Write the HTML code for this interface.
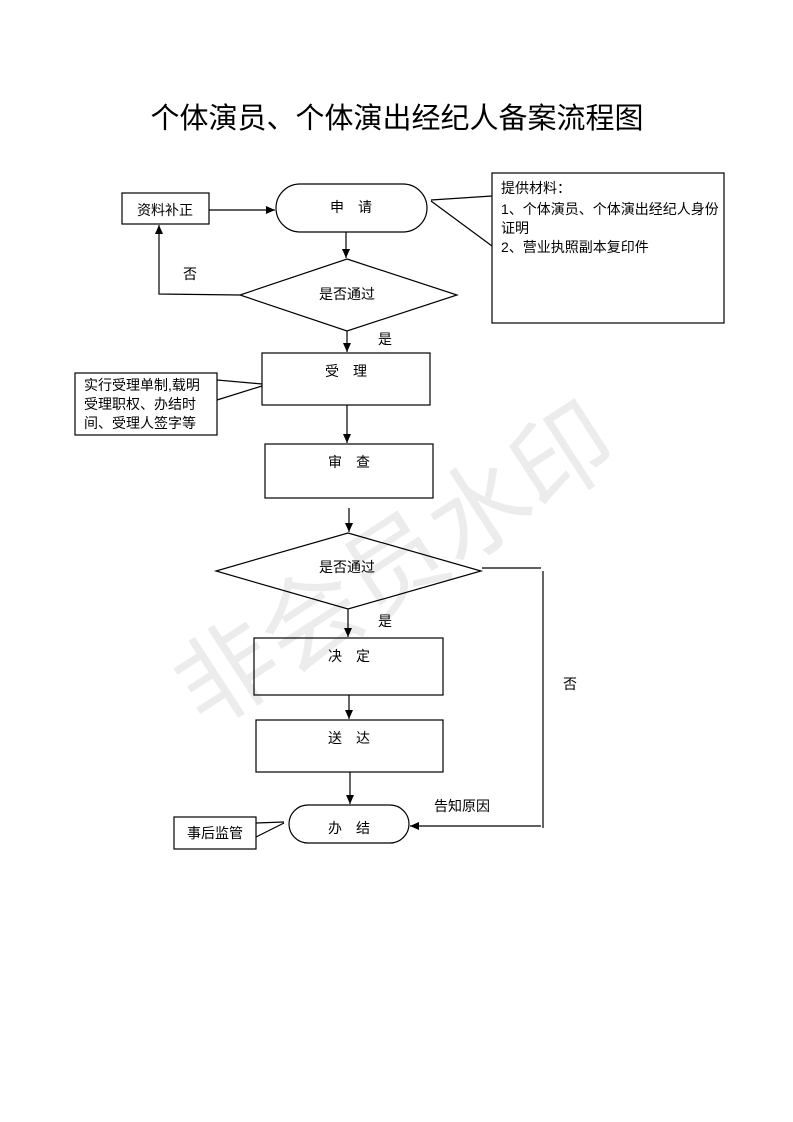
<!DOCTYPE html>
<html><head><meta charset="utf-8"><style>
html,body{margin:0;padding:0;background:#fff;}
svg{display:block;font-family:"Liberation Sans","Noto Sans CJK SC",sans-serif;}
</style></head><body>
<svg width="793" height="1122" viewBox="0 0 793 1122" xmlns="http://www.w3.org/2000/svg">
<defs><marker id="a" markerWidth="10" markerHeight="10" refX="9" refY="5" orient="auto" markerUnits="userSpaceOnUse"><path d="M0,1 L9,5 L0,9 z" fill="#000"/></marker></defs>
<text x="395" y="600" font-size="100" fill="#ececec" text-anchor="middle" transform="rotate(-33 395 565)">非会员水印</text>
<text x="397" y="128" font-size="29" text-anchor="middle" fill="#000">个体演员、个体演出经纪人备案流程图</text>
<g fill="none" stroke="#000" stroke-width="1.2">
<rect x="122" y="193" width="87" height="31"/>
<rect x="276" y="184" width="151" height="48" rx="24"/>
<rect x="492" y="173" width="232" height="150"/>
<polygon points="347,259 457,295 347,331 240,295"/>
<rect x="262" y="353" width="168" height="52"/>
<rect x="75" y="373" width="142" height="62"/>
<rect x="265" y="444" width="168" height="54"/>
<polygon points="348,533 481,571 348,609 216,571"/>
<rect x="254" y="638" width="189" height="57"/>
<rect x="256" y="720" width="187" height="52"/>
<rect x="289" y="805" width="120" height="38" rx="19"/>
<rect x="174" y="817" width="82" height="32"/>
<polyline points="431,200 492,196"/><polyline points="431,201 492,246"/>
<polyline points="262,384 217,380"/><polyline points="262,386 217,400"/>
<polyline points="284,822 256,823"/><polyline points="284,823 256,837"/>
<line x1="209" y1="210" x2="275" y2="210" marker-end="url(#a)"/>
<line x1="346" y1="232" x2="346" y2="258" marker-end="url(#a)"/>
<polyline points="240,295 159,294 159,225" marker-end="url(#a)"/>
<line x1="347" y1="331" x2="347" y2="352" marker-end="url(#a)"/>
<line x1="347" y1="405" x2="347" y2="443" marker-end="url(#a)"/>
<line x1="349" y1="508" x2="349" y2="532" marker-end="url(#a)"/>
<line x1="348" y1="609" x2="348" y2="637" marker-end="url(#a)"/>
<line x1="349" y1="695" x2="349" y2="719" marker-end="url(#a)"/>
<line x1="350" y1="772" x2="350" y2="804" marker-end="url(#a)"/>
<polyline points="482,568 541,568"/><line x1="543" y1="571" x2="543" y2="828"/>
<line x1="541" y1="826" x2="410" y2="826" marker-end="url(#a)"/>
</g>
<g font-size="14" fill="#000">
<text x="165" y="215" text-anchor="middle">资料补正</text>
<text x="351" y="212" text-anchor="middle">申　请</text>
<text x="501" y="193">提供材料：</text>
<text x="501" y="214">1、个体演员、个体演出经纪人身份</text>
<text x="501" y="233">证明</text>
<text x="501" y="252">2、营业执照副本复印件</text>
<text x="190" y="279" text-anchor="middle">否</text>
<text x="347" y="299" text-anchor="middle">是否通过</text>
<text x="385" y="344" text-anchor="middle">是</text>
<text x="346" y="376" text-anchor="middle">受　理</text>
<text x="84" y="390">实行受理单制,载明</text>
<text x="84" y="409">受理职权、办结时</text>
<text x="84" y="428">间、受理人签字等</text>
<text x="349" y="467" text-anchor="middle">审　查</text>
<text x="347" y="572" text-anchor="middle">是否通过</text>
<text x="385" y="626" text-anchor="middle">是</text>
<text x="349" y="661" text-anchor="middle">决　定</text>
<text x="349" y="743" text-anchor="middle">送　达</text>
<text x="570" y="689" text-anchor="middle">否</text>
<text x="462" y="811" text-anchor="middle">告知原因</text>
<text x="349" y="833" text-anchor="middle">办　结</text>
<text x="215" y="838" text-anchor="middle">事后监管</text>
</g>
</svg>
</body></html>
